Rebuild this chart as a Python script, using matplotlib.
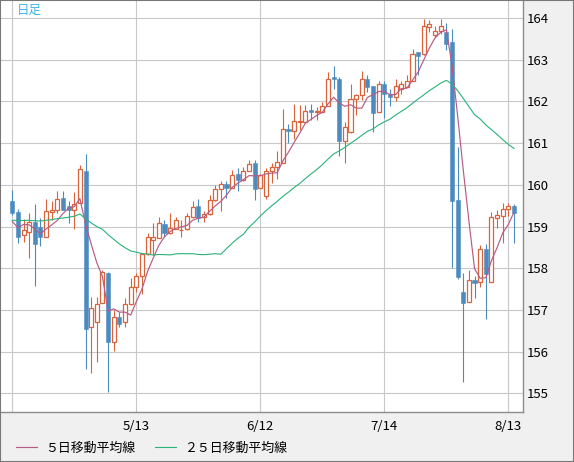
import matplotlib
matplotlib.use("Agg")
import matplotlib.pyplot as plt
import numpy as np
import pandas as pd
from matplotlib.patches import Rectangle

plt.rcParams['font.family'] = ['Noto Sans CJK JP', 'DejaVu Sans']

# daily candles (business days)
dates = pd.bdate_range("2026-04-13", periods=90)

opens = [159.60, 159.35, 158.79, 158.86, 159.12, 159.00, 158.74, 159.36, 159.39, 159.68,
         159.49, 159.39, 159.56, 160.33, 156.58, 156.70, 157.16, 157.88, 156.22, 156.84,
         156.70, 157.13, 157.54, 157.81, 158.34, 158.68, 158.73, 159.06, 158.85, 158.95,
         158.91, 158.93, 159.23, 159.50, 159.22, 159.29, 159.63, 159.89, 160.01, 159.93,
         160.26, 160.12, 160.34, 160.52, 159.93, 159.73, 160.32, 160.43, 160.52, 161.35,
         161.28, 161.51, 161.51, 161.79, 161.74, 161.75, 161.90, 162.59, 162.55, 161.06,
         161.26, 162.07, 162.16, 162.55, 162.37, 161.75, 162.43, 162.19, 162.10, 162.31,
         162.35, 162.50, 163.19, 163.14, 163.78, 163.60, 163.70, 163.67, 163.42, 159.64,
         157.43, 157.20, 157.72, 157.68, 158.45, 157.66, 159.20, 159.26, 159.41, 159.49]
highs = [159.88, 159.42, 159.17, 159.32, 159.54, 159.20, 159.66, 159.60, 159.85, 159.85,
         159.61, 159.82, 160.48, 160.74, 157.32, 157.32, 157.96, 157.92, 157.00, 156.96,
         157.28, 157.76, 157.88, 158.36, 158.84, 159.08, 159.24, 159.16, 159.33, 159.24,
         159.16, 159.32, 159.60, 159.66, 159.37, 159.75, 159.99, 160.09, 160.09, 160.36,
         160.40, 160.43, 160.60, 160.60, 160.25, 160.40, 160.52, 160.80, 161.81, 161.46,
         161.94, 161.91, 161.91, 161.95, 161.86, 161.99, 162.70, 162.85, 162.58, 161.51,
         162.43, 162.19, 162.74, 162.63, 162.37, 162.50, 162.50, 162.31, 162.55, 162.50,
         162.63, 163.25, 163.19, 163.99, 163.95, 163.81, 163.99, 163.88, 163.75, 160.91,
         157.89, 157.96, 157.81, 158.56, 158.58, 159.36, 159.40, 159.56, 159.57, 159.54]
lows = [159.28, 158.60, 158.64, 158.25, 157.58, 158.54, 158.74, 159.16, 159.32, 159.40,
        159.09, 158.95, 159.56, 155.58, 155.49, 155.76, 157.16, 155.04, 156.02, 156.60,
        156.60, 157.12, 157.44, 157.37, 158.32, 158.32, 158.73, 158.76, 158.82, 158.95,
        158.76, 158.91, 159.20, 159.12, 159.10, 159.27, 159.62, 159.38, 159.69, 159.93,
        159.86, 160.10, 160.34, 159.64, 159.93, 159.67, 160.05, 160.13, 160.52, 161.00,
        161.09, 161.31, 161.49, 161.55, 161.55, 161.75, 161.90, 162.29, 160.68, 160.52,
        161.25, 161.67, 162.03, 162.23, 161.27, 161.75, 161.60, 161.90, 162.00, 162.19,
        162.34, 162.50, 162.63, 163.11, 163.67, 163.55, 163.63, 163.23, 158.00, 157.75,
        155.26, 157.20, 157.29, 157.56, 156.77, 157.66, 158.96, 158.60, 159.25, 158.61]
closes = [159.33, 158.76, 158.92, 159.12, 158.57, 158.74, 159.37, 159.40, 159.65, 159.40,
          159.39, 159.54, 160.37, 156.55, 157.04, 157.14, 157.90, 156.22, 156.82, 156.65,
          157.14, 157.55, 157.81, 158.34, 158.76, 158.75, 159.08, 158.84, 158.96, 159.16,
          158.92, 159.25, 159.46, 159.20, 159.29, 159.63, 159.89, 160.01, 159.93, 160.23,
          160.12, 160.33, 160.49, 159.91, 160.23, 160.34, 160.43, 160.54, 161.33, 161.28,
          161.52, 161.53, 161.76, 161.75, 161.77, 161.88, 162.55, 162.55, 161.06, 161.38,
          162.07, 162.15, 162.53, 162.35, 161.73, 162.43, 162.19, 162.11, 162.37, 162.43,
          162.49, 163.15, 163.10, 163.81, 163.87, 163.70, 163.82, 163.39, 159.61, 157.80,
          157.17, 157.72, 157.65, 158.45, 157.86, 159.22, 159.28, 159.41, 159.48, 159.33]
# closes before the window, only used to start the moving averages
prev_closes = [158.85, 158.95, 159.05, 158.80, 158.90, 158.91, 159.10, 158.95, 159.05, 158.90,
               159.00, 159.00, 159.40, 159.55, 159.35, 159.50, 159.45, 159.60, 159.42, 159.40,
               159.51, 158.52, 159.17, 159.07]

ma_labels = ['５日移動平均線', '２５日移動平均線']
price_ticks = [155, 156, 157, 158, 159, 160, 161, 162, 163, 164]

RED = '#D9633B'
BLUE = '#4B8BC0'
PINK = '#B85A85'
GREEN = '#28B27A'

all_close = pd.Series(prev_closes + closes)
ma5 = all_close.rolling(5).mean().iloc[len(prev_closes):].to_numpy()
ma25 = all_close.rolling(25).mean().iloc[len(prev_closes):].to_numpy()

o = np.array(opens); h = np.array(highs); l = np.array(lows); c = np.array(closes)
x = np.arange(len(c))
up = c >= o

fig = plt.figure(figsize=(5.74, 4.62), dpi=100, facecolor='#F0F0F0')
ax = fig.add_axes([1/574, 1 - 412/462, 522/574, 411/462])
ax.set_facecolor('white')

ax.vlines(x, l, h, colors=np.where(up, RED, BLUE), lw=0.8, zorder=2)
ax.bar(x[up], (c - o)[up], bottom=o[up], width=0.72, facecolor='white',
       edgecolor=RED, lw=0.9, zorder=3)
ax.bar(x[~up], (o - c)[~up], bottom=c[~up], width=0.72, color=BLUE,
       edgecolor=BLUE, lw=0.4, zorder=3)

l5, = ax.plot(x, ma5, color=PINK, lw=0.85, zorder=4)
l25, = ax.plot(x, ma25, color=GREEN, lw=0.8, zorder=4)

ax.set_xlim(-2.0, 90.6)
ax.set_ylim(154.55, 164.41)

tick_idx = x[::22]
ax.set_xticks(tick_idx)
ax.set_xticklabels([''] + [f"{d.month}/{d.day}" for d in dates[tick_idx[1:]]])
ax.set_yticks(price_ticks)
ax.yaxis.tick_right()
ax.tick_params(axis='y', length=0, pad=3, labelsize=9.5)
ax.tick_params(axis='x', length=0, pad=6, labelsize=9.5)
ax.grid(color='#C8C8C8', lw=0.8)
ax.set_axisbelow(True)
for s in ['left', 'top']:
    ax.spines[s].set_visible(False)
for s in ['right', 'bottom']:
    ax.spines[s].set_color('#8C8C8C')
    ax.spines[s].set_linewidth(1.0)

ax.text(0.031, 0.978, '日足', transform=ax.transAxes, color='#3CB4E6',
        fontsize=9, va='center', ha='left')

fig.legend([l5, l25], ma_labels, loc='center left', bbox_to_anchor=(16/574, 1 - 448/462),
           ncol=2, frameon=False, fontsize=9.3, handlelength=1.65, handletextpad=0.6,
           columnspacing=1.5, borderpad=0, borderaxespad=0)

fig.patches.append(Rectangle((0, 0), 1, 1, transform=fig.transFigure, fill=False,
                             edgecolor='#777777', lw=1.5))

fig.savefig('out.png', dpi=100, facecolor=fig.get_facecolor())
